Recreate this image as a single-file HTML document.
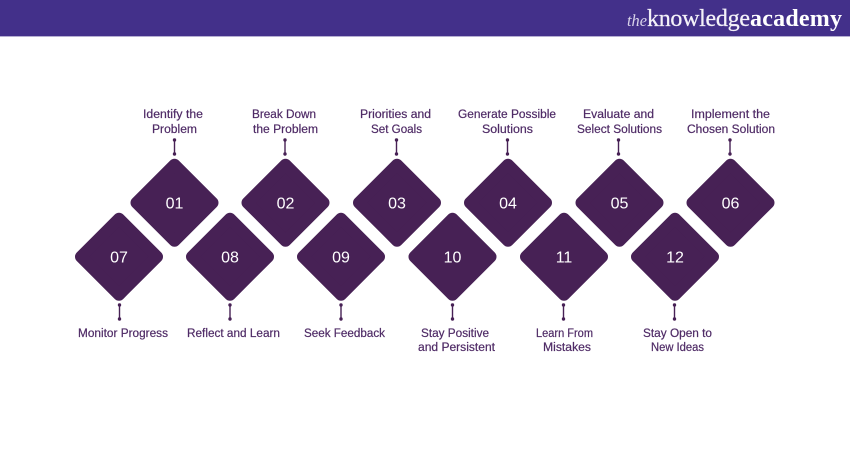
<!DOCTYPE html>
<html>
<head>
<meta charset="utf-8">
<style>
html,body{margin:0;padding:0;background:#fff;}
svg{display:block;}
.l{font-family:"Liberation Sans",sans-serif;font-size:11.5px;fill:#4f2b66;font-weight:400;stroke:#4f2b66;stroke-width:.2;}
.n{font-family:"Liberation Sans",sans-serif;font-size:16px;fill:#fff;text-anchor:middle;}
.a{stroke:#472155;stroke-width:1.4;fill:#472155;}
</style>
</head>
<body>
<svg width="850" height="450" viewBox="0 0 850 450" xmlns="http://www.w3.org/2000/svg">
<rect width="850" height="450" fill="#fff"/>
<rect width="850" height="36" fill="#43308a"/>
<rect y="36" width="850" height="1" fill="#b5aed2"/>
<text x="627" y="26" font-family="Liberation Serif,serif" font-style="italic" font-size="17" fill="#d9d4ea" textLength="20" lengthAdjust="spacingAndGlyphs">the</text>
<text x="647" y="26" font-family="Liberation Serif,serif" font-size="24" fill="#f4f2f9" stroke="#f4f2f9" stroke-width=".25" textLength="103" lengthAdjust="spacing">knowledge</text>
<text x="750" y="26" font-family="Liberation Serif,serif" font-weight="bold" font-size="24" fill="#fff" textLength="92" lengthAdjust="spacing">academy</text>

<g fill="#472155" stroke="#472155" stroke-width="12" stroke-linejoin="round">
<path d="M174.500 164.700 L212.500 202.700 L174.500 240.700 L136.500 202.700Z"/>
<path d="M285.500 164.700 L323.500 202.700 L285.500 240.700 L247.500 202.700Z"/>
<path d="M397 164.700 L435 202.700 L397 240.700 L359 202.700Z"/>
<path d="M508 164.700 L546 202.700 L508 240.700 L470 202.700Z"/>
<path d="M619.500 164.700 L657.500 202.700 L619.500 240.700 L581.500 202.700Z"/>
<path d="M730.500 164.700 L768.500 202.700 L730.500 240.700 L692.500 202.700Z"/>
<path d="M119 218.700 L157 256.700 L119 294.700 L81 256.700Z"/>
<path d="M230 218.700 L268 256.700 L230 294.700 L192 256.700Z"/>
<path d="M341 218.700 L379 256.700 L341 294.700 L303 256.700Z"/>
<path d="M452.500 218.700 L490.500 256.700 L452.500 294.700 L414.500 256.700Z"/>
<path d="M564 218.700 L602 256.700 L564 294.700 L526 256.700Z"/>
<path d="M675 218.700 L713 256.700 L675 294.700 L637 256.700Z"/>
</g>

<text class="n" x="174.500" y="208.500">01</text>
<text class="n" x="285.500" y="208.500">02</text>
<text class="n" x="397" y="208.500">03</text>
<text class="n" x="508" y="208.500">04</text>
<text class="n" x="619.500" y="208.500">05</text>
<text class="n" x="730.500" y="208.500">06</text>
<text class="n" x="119" y="262.500">07</text>
<text class="n" x="230" y="262.500">08</text>
<text class="n" x="341" y="262.500">09</text>
<text class="n" x="452.500" y="262.500">10</text>
<text class="n" x="564" y="262.500">11</text>
<text class="n" x="675" y="262.500">12</text>

<g class="a">
<path d="M174.500 140V154"/><circle cx="174.500" cy="140" r="1"/><circle cx="174.500" cy="154" r="1"/>
<path d="M285 140V154"/><circle cx="285" cy="140" r="1"/><circle cx="285" cy="154" r="1"/>
<path d="M396.500 140V154"/><circle cx="396.500" cy="140" r="1"/><circle cx="396.500" cy="154" r="1"/>
<path d="M507.500 140V154"/><circle cx="507.500" cy="140" r="1"/><circle cx="507.500" cy="154" r="1"/>
<path d="M618.500 140V154"/><circle cx="618.500" cy="140" r="1"/><circle cx="618.500" cy="154" r="1"/>
<path d="M730 140V154"/><circle cx="730" cy="140" r="1"/><circle cx="730" cy="154" r="1"/>
<path d="M119.500 305V319"/><circle cx="119.500" cy="305" r="1"/><circle cx="119.500" cy="319" r="1"/>
<path d="M230 305V319"/><circle cx="230" cy="305" r="1"/><circle cx="230" cy="319" r="1"/>
<path d="M341 305V319"/><circle cx="341" cy="305" r="1"/><circle cx="341" cy="319" r="1"/>
<path d="M452.500 305V319"/><circle cx="452.500" cy="305" r="1"/><circle cx="452.500" cy="319" r="1"/>
<path d="M563.500 305V319"/><circle cx="563.500" cy="305" r="1"/><circle cx="563.500" cy="319" r="1"/>
<path d="M674.500 305V319"/><circle cx="674.500" cy="305" r="1"/><circle cx="674.500" cy="319" r="1"/>
</g>

<g>
<text class="l" x="143" y="118" textLength="60" lengthAdjust="spacingAndGlyphs">Identify the</text>
<text class="l" x="152" y="133" textLength="45" lengthAdjust="spacingAndGlyphs">Problem</text>
<text class="l" x="252" y="118" textLength="64" lengthAdjust="spacingAndGlyphs">Break Down</text>
<text class="l" x="253" y="133" textLength="65" lengthAdjust="spacingAndGlyphs">the Problem</text>
<text class="l" x="360" y="118" textLength="71" lengthAdjust="spacingAndGlyphs">Priorities and</text>
<text class="l" x="371" y="133" textLength="51" lengthAdjust="spacingAndGlyphs">Set Goals</text>
<text class="l" x="458" y="118" textLength="98" lengthAdjust="spacingAndGlyphs">Generate Possible</text>
<text class="l" x="482" y="133" textLength="51" lengthAdjust="spacingAndGlyphs">Solutions</text>
<text class="l" x="583" y="118" textLength="71" lengthAdjust="spacingAndGlyphs">Evaluate and</text>
<text class="l" x="577" y="133" textLength="85" lengthAdjust="spacingAndGlyphs">Select Solutions</text>
<text class="l" x="691" y="118" textLength="79" lengthAdjust="spacingAndGlyphs">Implement the</text>
<text class="l" x="687" y="133" textLength="88" lengthAdjust="spacingAndGlyphs">Chosen Solution</text>
<text class="l" x="78" y="337" textLength="90" lengthAdjust="spacingAndGlyphs">Monitor Progress</text>
<text class="l" x="187" y="337" textLength="93" lengthAdjust="spacingAndGlyphs">Reflect and Learn</text>
<text class="l" x="304" y="337" textLength="81" lengthAdjust="spacingAndGlyphs">Seek Feedback</text>
<text class="l" x="421" y="337" textLength="68" lengthAdjust="spacingAndGlyphs">Stay Positive</text>
<text class="l" x="418" y="351" textLength="77" lengthAdjust="spacingAndGlyphs">and Persistent</text>
<text class="l" x="536" y="337" textLength="57" lengthAdjust="spacingAndGlyphs">Learn From</text>
<text class="l" x="543" y="351" textLength="48" lengthAdjust="spacingAndGlyphs">Mistakes</text>
<text class="l" x="643" y="337" textLength="69" lengthAdjust="spacingAndGlyphs">Stay Open to</text>
<text class="l" x="651" y="351" textLength="53" lengthAdjust="spacingAndGlyphs">New Ideas</text>
</g>
</svg>
</body>
</html>
